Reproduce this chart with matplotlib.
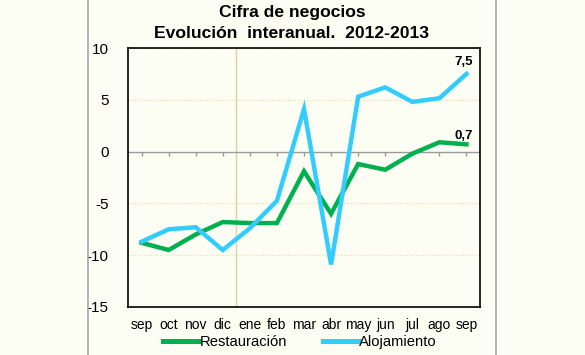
import matplotlib
matplotlib.use("Agg")
import matplotlib.pyplot as plt
from matplotlib.lines import Line2D
import numpy as np

plt.rcParams['font.family'] = ['Liberation Sans', 'DejaVu Sans']

months = ["sep", "oct", "nov", "dic", "ene", "feb", "mar", "abr", "may", "jun", "jul", "ago", "sep"]
restauracion = [-8.8, -9.5, -8.0, -6.8, -6.9, -6.9, -1.9, -6.0, -1.2, -1.75, -0.2, 0.9, 0.7]
alojamiento = [-8.7, -7.5, -7.3, -9.5, -7.4, -4.75, 4.1, -10.9, 5.3, 6.2, 4.8, 5.15, 7.5]
yticks = [-15, -10, -5, 0, 5, 10]
title_lines = ["Cifra de negocios", "Evolución  interanual.  2012-2013"]

bg = "#FDFEF3"
fig = plt.figure(figsize=(5.85, 3.55), dpi=100, facecolor=bg)
ax = fig.add_axes([128/585, 1-307/355, 352/585, 259/355], facecolor=bg)

x = np.arange(len(months))
ax.set_xlim(-0.5, len(months) - 0.5)
ax.set_ylim(-15, 10)

for v in yticks:
    if v != 0:
        ax.axhline(v, color="#E6E0A8", lw=0.9, ls=(0, (1, 1.5)), zorder=0)
ax.axvline(3.5, color="#D8D2A8", lw=1.0, zorder=0)
ax.axhline(0, color="#9A9A9A", lw=1.0, zorder=1)
ax.plot(x, np.zeros(len(x)), ls="none", marker=3, ms=3, color="#9A9A9A", mew=1.0, zorder=1)

ax.plot(x, restauracion, color="#00B050", lw=3.2, solid_joinstyle="miter", label="Restauración", zorder=3)
ax.plot(x, alojamiento, color="#33CCFF", lw=3.2, solid_joinstyle="miter", label="Alojamiento", zorder=3)

ax.annotate(f"{alojamiento[-1]:.1f}".replace(".", ","), (x[-1], alojamiento[-1]), xytext=(-2, 4),
            textcoords="offset points", ha="center", va="bottom", fontsize=9.5, fontweight="bold")
ax.annotate(f"{restauracion[-1]:.1f}".replace(".", ","), (x[-1], restauracion[-1]), xytext=(-2, 2),
            textcoords="offset points", ha="center", va="bottom", fontsize=9.5, fontweight="bold")

ax.set_yticks(yticks)
ax.set_yticklabels([str(v) for v in yticks], fontsize=11)
ax.set_xticks(x)
ax.set_xticklabels(months, fontsize=10)
ax.tick_params(axis="y", length=0, pad=14)
ax.tick_params(axis="x", length=0, pad=8)
for s in ax.spines.values():
    s.set_color("black")
    s.set_linewidth(1.2)

for line, yc in zip(title_lines, (13, 33)):
    fig.text(292/585, 1-yc/355, line, ha="center", va="center", fontsize=12.6, fontweight="bold")

leg = fig.legend(loc="center", bbox_to_anchor=(300/585, 1-342/355), ncol=2, frameon=False,
                 fontsize=10.6, handlelength=2.45, handletextpad=0.05, columnspacing=2.4)
for h in leg.get_lines():
    h.set_linewidth(3.6)

for xp in (88, 496):
    fig.add_artist(Line2D([xp/585, xp/585], [0, 1], transform=fig.transFigure, color="#A8A8A8", lw=1.2))

fig.savefig("out.png", dpi=100, facecolor=bg)
